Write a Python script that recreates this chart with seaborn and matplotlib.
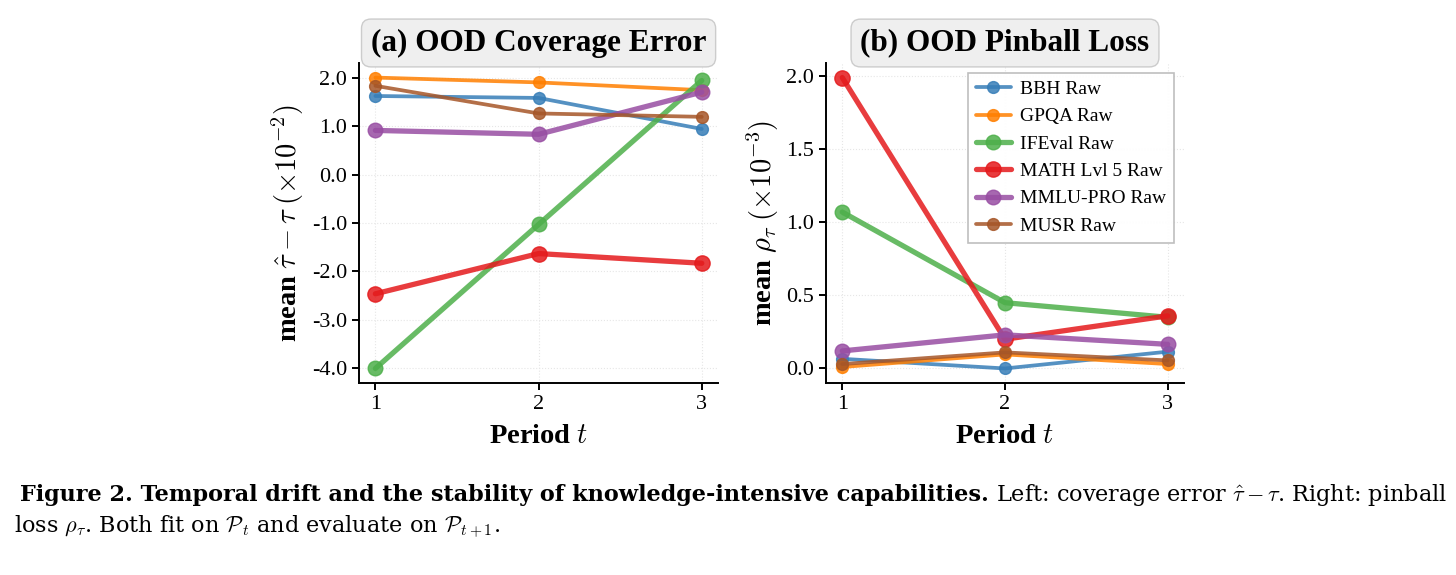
import pandas as pd
import matplotlib
matplotlib.use('Agg')
import matplotlib.pyplot as plt
import seaborn as sns

# periods and benchmark series
periods = [1, 2, 3]
benchmarks = ['BBH Raw', 'GPQA Raw', 'IFEval Raw', 'MATH Lvl 5 Raw', 'MMLU-PRO Raw', 'MUSR Raw']
colors = ['#377eb8', '#ff7f00', '#4daf4a', '#e41a1c', '#984ea3', '#a65628']
thick = ['IFEval Raw', 'MATH Lvl 5 Raw', 'MMLU-PRO Raw']

# (a) coverage error, x1e-2
cov_bbh = [1.62, 1.58, 0.94]
cov_gpqa = [2.00, 1.90, 1.74]
cov_ifeval = [-4.00, -1.03, 1.94]
cov_math = [-2.46, -1.63, -1.83]
cov_mmlu = [0.91, 0.83, 1.70]
cov_musr = [1.83, 1.26, 1.19]

# (b) pinball loss, x1e-3
pin_bbh = [0.066, 0.00, 0.115]
pin_gpqa = [0.010, 0.096, 0.030]
pin_ifeval = [1.07, 0.45, 0.35]
pin_math = [1.99, 0.20, 0.36]
pin_mmlu = [0.12, 0.23, 0.165]
pin_musr = [0.030, 0.110, 0.055]

yticks_cov = [2.0, 1.0, 0.0, -1.0, -2.0, -3.0, -4.0]
yticks_pin = [0.0, 0.5, 1.0, 1.5, 2.0]


def to_long(series):
    rows = []
    for name, vals in zip(benchmarks, series):
        for p, v in zip(periods, vals):
            rows.append({'period': p, 'value': v, 'benchmark': name})
    return pd.DataFrame(rows)


cov_df = to_long([cov_bbh, cov_gpqa, cov_ifeval, cov_math, cov_mmlu, cov_musr])
pin_df = to_long([pin_bbh, pin_gpqa, pin_ifeval, pin_math, pin_mmlu, pin_musr])

sns.set_style('ticks')
plt.rcParams['font.family'] = ['Liberation Serif', 'DejaVu Serif']
plt.rcParams['mathtext.fontset'] = 'cm'
plt.rcParams['axes.linewidth'] = 1.4
for key in ['text.color', 'axes.labelcolor', 'xtick.color', 'ytick.color', 'axes.edgecolor']:
    plt.rcParams[key] = 'black'

fig = plt.figure(figsize=(14.56, 5.75), dpi=100)
ax1 = fig.add_axes([0.2466, 0.3339, 0.2466, 0.5565])
ax2 = fig.add_axes([0.5673, 0.3339, 0.2459, 0.5565])


def draw_panel(ax, df, title, ylabel, yticks):
    for name, col in zip(benchmarks, colors):
        sub = df[df['benchmark'] == name]
        big = name in thick
        lw = 3.8 if big else 2.7
        ms = 10.5 if big else 8.5
        if name == 'MATH Lvl 5 Raw':
            ms = 11
        sns.lineplot(data=sub, x='period', y='value', ax=ax, color=col, label=name,
                     linewidth=lw, marker='o', markersize=ms, alpha=0.85,
                     markeredgecolor=col, markeredgewidth=1.0)
    ax.set_xticks(periods)
    ax.set_yticks(yticks)
    ax.set_yticklabels([f'{t:.1f}' for t in yticks])
    ax.tick_params(labelsize=16, length=5, width=1.4, direction='out')
    ax.grid(True, linestyle=':', color='#e6e6e6', linewidth=0.8)
    ax.set_xlabel('Period $t$', fontsize=20.5, fontweight='bold', labelpad=7)
    ax.set_ylabel(ylabel, fontsize=20.5, fontweight='bold', labelpad=4)
    ax.set_title(title, fontsize=22.5, fontweight='bold', pad=9,
                 bbox=dict(boxstyle='round,pad=0.3', facecolor='#efefef',
                           edgecolor='#cccccc', linewidth=1.0))
    sns.despine(ax=ax)


draw_panel(ax1, cov_df, '(a) OOD Coverage Error',
           r'mean $\hat{\tau} - \tau\;(\times 10^{-2})$', yticks_cov)
draw_panel(ax2, pin_df, '(b) OOD Pinball Loss',
           r'mean $\rho_\tau\;(\times 10^{-3})$', yticks_pin)

ax1.get_legend().remove()
leg = ax2.legend(loc='upper right', fontsize=14, frameon=True, fancybox=False,
                 edgecolor='#bbbbbb', framealpha=0.95, borderaxespad=0.5,
                 handlelength=1.8, handletextpad=0.5)
leg.get_frame().set_linewidth(1.2)

# caption: bold lead sentence followed by regular text
cap_font = ['DejaVu Serif']
cap_size = 16.1
y1 = 1 - 501 / 575
y2 = 1 - 533 / 575
t_bold = fig.text(20 / 1456, y1,
                  'Figure 2. Temporal drift and the stability of knowledge-intensive capabilities.',
                  fontsize=cap_size, fontweight='bold', va='baseline', family=cap_font)
fig.canvas.draw()
bb = t_bold.get_window_extent()
fig.text(bb.x1 / fig.bbox.width + 7 / 1456, y1,
         r'Left: coverage error $\hat{\tau} - \tau$. Right: pinball',
         fontsize=cap_size, va='baseline', family=cap_font)
fig.text(14 / 1456, y2,
         r'loss $\rho_\tau$. Both fit on $\mathcal{P}_t$ and evaluate on $\mathcal{P}_{t+1}$.',
         fontsize=cap_size, va='baseline', family=cap_font)

fig.savefig('out.png', dpi=100, facecolor='white')
